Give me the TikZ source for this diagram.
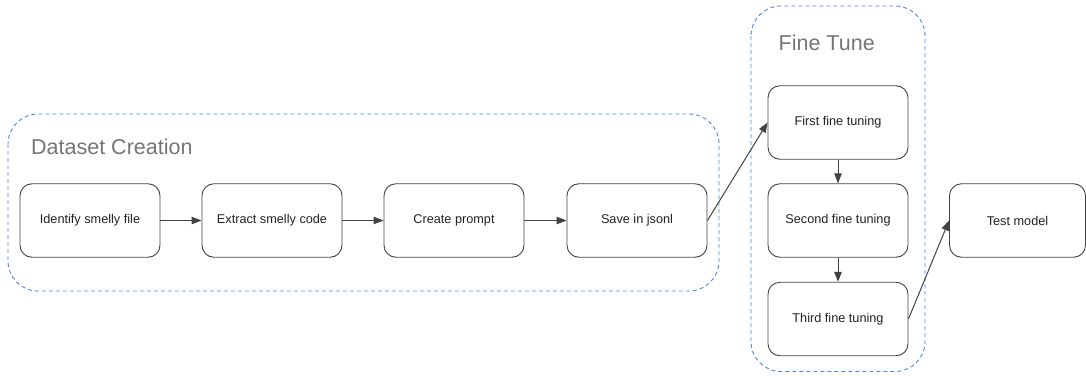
\documentclass[tikz,border=0pt]{standalone}
\usepackage{fontspec}
\setmainfont{Liberation Sans}
\usetikzlibrary{arrows.meta}
\definecolor{edge}{HTML}{424242}
\definecolor{dash}{HTML}{4A86E8}
\definecolor{title}{HTML}{757575}
\definecolor{txt}{HTML}{212121}
\tikzset{
  stepbox/.style={draw=edge, line width=0.9pt, rounded corners=12pt, minimum width=140pt, minimum height=73.5pt, inner sep=0pt, text=txt, font=\fontsize{12.7}{15}\selectfont, anchor=center},
  groupbox/.style={draw=dash, line width=0.9pt, dash pattern=on 4pt off 3pt, rounded corners=30pt},
  grouptitle/.style={text=title, font=\fontsize{21.5}{26}\selectfont, anchor=base west, inner sep=0pt},
  conn/.style={draw=edge, line width=1pt, -{Triangle[length=10pt,width=7.5pt]}}
}
\begin{document}
\begin{tikzpicture}[x=1pt,y=-1pt]
\useasboundingbox (0,0) rectangle (1086,375);
\draw[groupbox] (8,114) rectangle (719,291);
\draw[groupbox] (751,6) rectangle (925,371.5);
\node[grouptitle] (tds) at (31,154.5) {Dataset Creation};
\node[grouptitle] (tft) at (778.5,50.5) {Fine Tune};
\node[stepbox] (ident) at (90,220.5) {Identify smelly file};
\node[stepbox] (extr) at (272,220.5) {Extract smelly code};
\node[stepbox] (crea) at (454,220.5) {Create prompt};
\node[stepbox] (save) at (637,220.5) {Save in jsonl};
\node[stepbox] (first) at (838,122.5) {First fine tuning};
\node[stepbox] (second) at (838,220.5) {Second fine tuning};
\node[stepbox] (third) at (838,319) {Third fine tuning};
\node[stepbox, minimum width=136pt] (test) at (1017.5,220.5) {Test model};
\draw[conn] (ident.east) -- (extr.west);
\draw[conn] (extr.east) -- (crea.west);
\draw[conn] (crea.east) -- (save.west);
\draw[conn] (save.east) -- (first.west);
\draw[conn] (first.south) -- (second.north);
\draw[conn] (second.south) -- (third.north);
\draw[conn] (third.east) -- (test.west);
\end{tikzpicture}
\end{document}
